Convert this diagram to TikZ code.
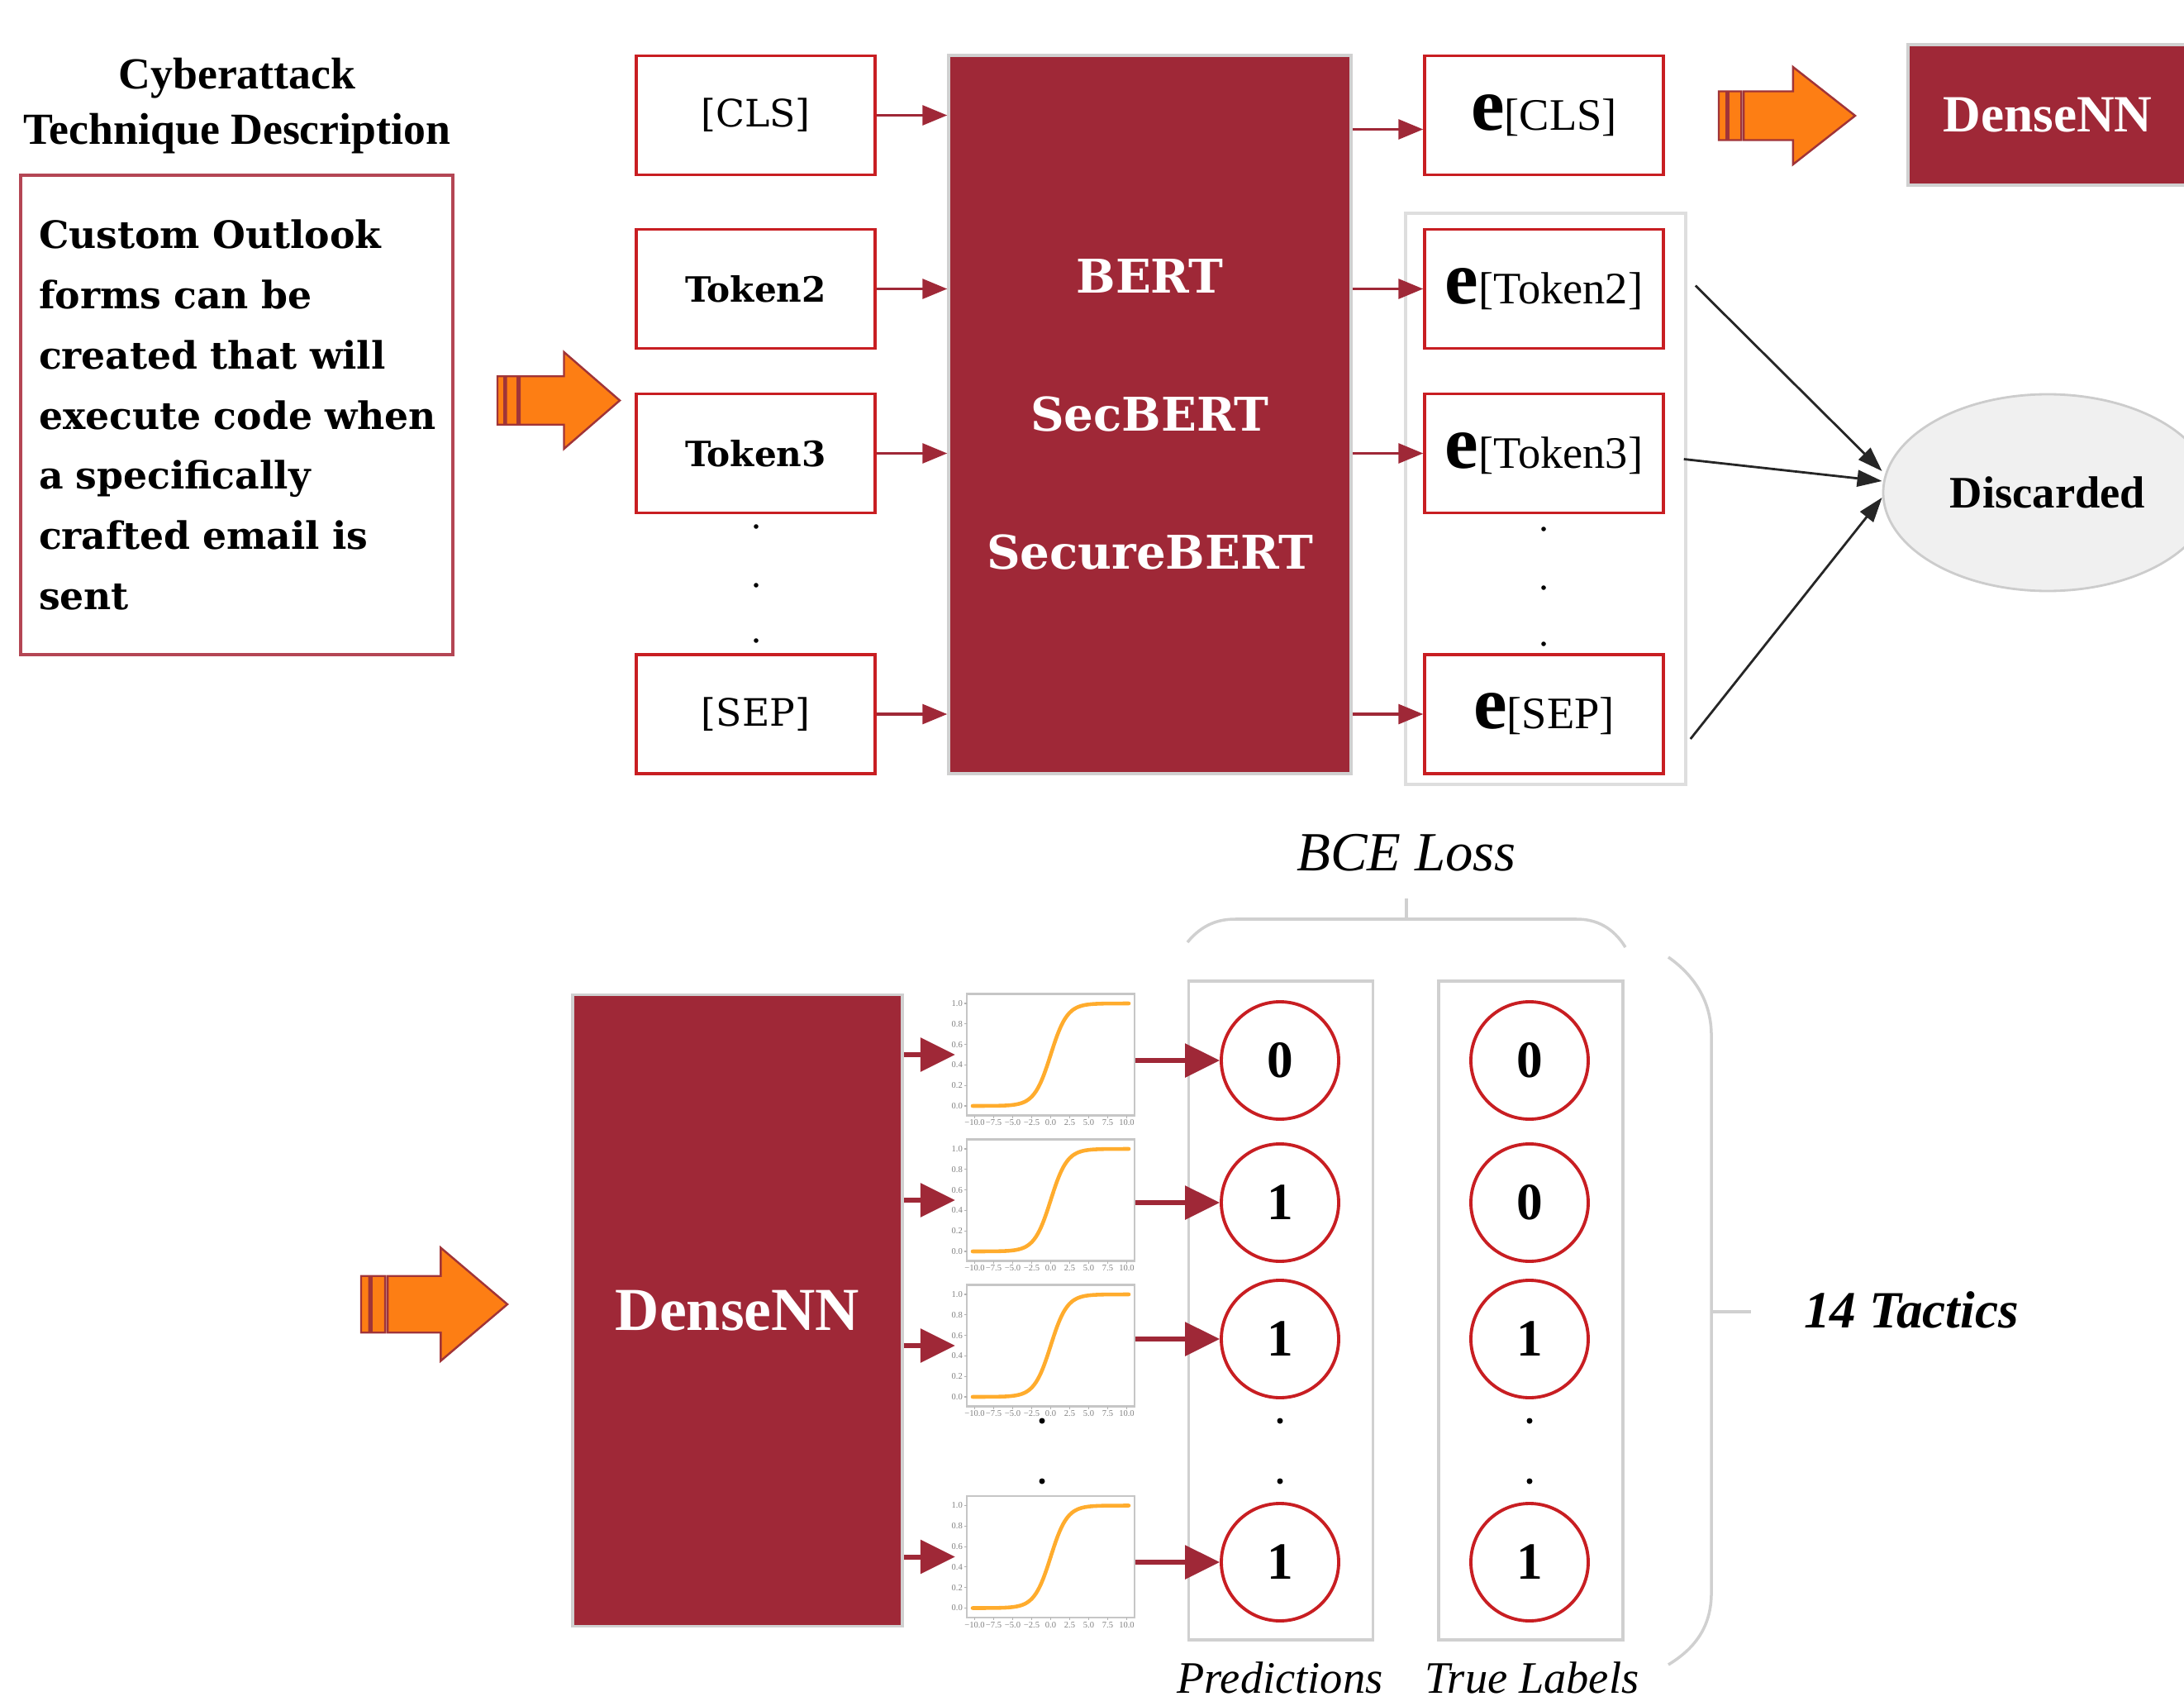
\documentclass[tikz,border=0pt]{standalone}
\usepackage{fontspec}
\setmainfont{Liberation Serif}
\newfontfamily\dejavu{DejaVu Serif}
\usetikzlibrary{arrows.meta,positioning,shapes.geometric}

\definecolor{bertred}{RGB}{159,40,55}
\definecolor{boxred}{RGB}{200,30,34}
\definecolor{descred}{RGB}{180,70,84}
\definecolor{paleline}{RGB}{208,208,208}
\definecolor{arrorange}{RGB}{253,126,20}
\definecolor{arredge}{RGB}{160,52,56}
\definecolor{sigorange}{RGB}{255,172,45}
\definecolor{discfill}{RGB}{240,240,240}

\newcommand{\embtok}[1]{{\fontsize{26}{26}\selectfont\bfseries e}{\fontsize{15.5}{15.5}\selectfont[#1]}}

\tikzset{
	stripearrow/.pic={
		\filldraw[fill=arrorange, draw=arredge, line width=0.7pt]
			(0,-0.25) rectangle (0.056,0.25)
			(0.071,-0.25) rectangle (0.165,0.25)
			(0.182,-0.25) -- (0.544,-0.25) -- (0.544,-0.5) -- (1,0)
			-- (0.544,0.5) -- (0.544,0.25) -- (0.182,0.25) -- cycle;
	}
}

\begin{document}
\begin{tikzpicture}[
		tok/.style={draw=boxred, line width=1pt, minimum width=2.89cm, minimum height=1.44cm, inner sep=0pt},
		special/.style={font=\dejavu\fontsize{13}{13}\selectfont},
		word/.style={font=\dejavu\bfseries\fontsize{12}{12}\selectfont},
		desc/.style={draw=descred, line width=1pt, text width=4.79cm, inner xsep=0.22cm, minimum height=5.80cm, align=left, font=\dejavu\bfseries\fontsize{13}{20.7}\selectfont},
		enc/.style={fill=bertred, draw=paleline, line width=1pt, text=white, inner sep=0pt},
		arr/.style={bertred, line width=0.9pt, -{Triangle[length=0.3cm,width=0.24cm]}},
		bigarr/.style={bertred, line width=1.7pt, -{Triangle[length=0.42cm,width=0.4cm]}},
		blackarr/.style={black!85, line width=0.8pt, -{Triangle[length=0.3cm,width=0.2cm]}},
		col/.style={draw=paleline, line width=1pt, minimum width=2.23cm, minimum height=7.97cm},
		bit/.style={circle, draw=boxred, line width=1.1pt, minimum size=1.42cm, inner sep=0pt, font=\bfseries\fontsize{18}{18}\selectfont},
		sgframe/.style={draw=gray!45, line width=0.6pt, minimum width=2.03cm, minimum height=1.47cm, inner sep=0pt},
		sigcurve/.style={sigorange, line width=1.3pt, line cap=round},
		ticklbl/.style={font=\fontsize{3}{3}\selectfont, text=gray, inner sep=0.4pt},
		brace/.style={paleline, line width=1pt},
		caption/.style={font=\itshape\fontsize{15.5}{15.5}\selectfont}
	]
	\useasboundingbox (0,0) rectangle (26.43,-20.64);
	\clip (0,0) rectangle (26.43,-20.64);

	\node[font=\bfseries\fontsize{15.3}{19.3}\selectfont, align=center] (title) at (2.87,-1.28) {Cyberattack\\Technique Description};
	\node[desc] (desc) at (2.865,-5.02) {Custom Outlook\\forms can be\\created that will\\\mbox{execute code when}\\a specifically\\crafted email is\\sent};
	\pic[xscale=1.48, yscale=1.17] at (6.02,-4.845) {stripearrow};

	\node[tok, special] (cls) at (9.145,-1.395) {[CLS]};
	\node[tok, word] (tk2) at (9.145,-3.495) {Token2};
	\node[tok, word] (tk3) at (9.145,-5.485) {Token3};
	\node[tok, special] (sep) at (9.145,-8.64) {[SEP]};
	\foreach \y in {6.37,7.08,7.75}
		\fill (9.15,-\y) circle (0.028);

	\node[enc, minimum width=4.87cm, minimum height=8.69cm, align=center, font=\dejavu\bfseries\fontsize{16}{47.5}\selectfont] (bert) at (13.915,-5.015) {BERT\\SecBERT\\SecureBERT};
	\foreach \t in {cls,tk2,tk3,sep}
		\draw[arr] (\t) -- (\t -| bert.west);

	\node[draw=paleline!70, line width=1.2pt, minimum width=3.39cm, minimum height=6.91cm] (egroup) at (18.705,-6.035) {};
	\node[tok] (ecls) at (18.685,-1.395) {\embtok{CLS}};
	\node[tok] (et2) at (18.685,-3.495) {\embtok{Token2}};
	\node[tok] (et3) at (18.685,-5.485) {\embtok{Token3}};
	\node[tok] (esep) at (18.685,-8.64) {\embtok{SEP}};
	\foreach \y in {6.40,7.11,7.79}
		\fill (18.68,-\y) circle (0.028);
	\coordinate (eclsin) at ([yshift=-0.17cm]ecls.west);
	\draw[arr] (bert.east |- eclsin) -- (eclsin);
	\foreach \t in {et2,et3,esep}
		\draw[arr] (bert.east |- \t) -- (\t);

	\pic[xscale=1.65, yscale=1.18] at (20.80,-1.40) {stripearrow};
	\node[enc, minimum width=3.38cm, minimum height=1.70cm, font=\bfseries\fontsize{18}{18}\selectfont] (densetop) at (24.78,-1.39) {DenseNN};

	\node[ellipse, draw=gray!40, fill=discfill, line width=0.8pt, minimum width=3.98cm, minimum height=2.38cm, inner sep=0pt, font=\bfseries\fontsize{15.5}{15.5}\selectfont] (disc) at (24.78,-5.96) {Discarded};
	\draw[blackarr] ([shift={(0.37,0.04)}]et2.east) -- ([yshift=0.26cm]disc.west);
	\draw[blackarr] ([shift={(0.23,-0.07)}]et3.east) -- ([yshift=0.14cm]disc.west);
	\draw[blackarr] ([shift={(0.31,-0.30)}]esep.east) -- ([yshift=-0.06cm]disc.west);

	\pic[xscale=1.77, yscale=1.37] at (4.37,-15.78) {stripearrow};
	\node[enc, minimum width=3.99cm, minimum height=7.64cm, font=\bfseries\fontsize{21}{21}\selectfont] (dense) at (8.925,-15.855) {DenseNN};

	\foreach \k/\yc in {1/12.76,2/14.52,3/16.28,4/18.835}{
		\node[sgframe] (sg\k) at (12.715,-\yc) {};
		\begin{scope}[shift={(sg\k.center)}]
			\draw[sigcurve] plot[domain=-9.5:9.5, samples=80, smooth] ({0.0995*\x},{1.24/(1+exp(-\x))-0.62});
			\foreach \t [count=\j] in {0.0,0.2,0.4,0.6,0.8,1.0}{
				\draw[gray!60, line width=0.3pt] (-1.015,{-0.62+0.248*(\j-1)}) -- ++(-0.03,0);
				\node[ticklbl, anchor=east] (sg\k y\j) at (-1.045,{-0.62+0.248*(\j-1)}) {\t};
			}
			\foreach \t [count=\j] in {−10.0,−7.5,−5.0,−2.5,0.0,2.5,5.0,7.5,10.0}{
				\draw[gray!60, line width=0.3pt] ({-0.92+0.23*(\j-1)},-0.735) -- ++(0,-0.03);
				\node[ticklbl, anchor=north] (sg\k x\j) at ({-0.92+0.23*(\j-1)},-0.765) {\t};
			}
		\end{scope}
		\draw[bigarr] (dense.east |- sg\k.west) -- ([xshift=-0.13cm]sg\k.west);
	}
	\foreach \y in {17.19,17.92}
		\fill (12.61,-\y) circle (0.035);

	\node[col] (predcol) at (15.50,-15.855) {};
	\node[col] (truecol) at (18.525,-15.855) {};
	\node[bit] (p1) at (15.49,-12.83) {0};
	\node[bit] (p2) at (15.49,-14.55) {1};
	\node[bit] (p3) at (15.49,-16.20) {1};
	\node[bit] (p4) at (15.49,-18.90) {1};
	\node[bit] (t1) at (18.51,-12.83) {0};
	\node[bit] (t2) at (18.51,-14.55) {0};
	\node[bit] (t3) at (18.51,-16.20) {1};
	\node[bit] (t4) at (18.51,-18.90) {1};
	\foreach \k in {1,...,4}
		\draw[bigarr] (sg\k.east |- p\k) -- (p\k);
	\foreach \x in {15.49,18.51}
		\foreach \y in {17.19,17.92}
			\fill (\x,-\y) circle (0.035);
	\node[caption] (predlbl) at (15.49,-20.30) {Predictions};
	\node[caption] (truelbl) at (18.54,-20.30) {True Labels};

	\coordinate (bcefoot) at (17.02,-11.12);
	\coordinate (bcetip) at (17.02,-10.87);
	\draw[brace] (14.37,-11.40) .. controls (14.55,-11.18) and (14.75,-11.12) .. (14.95,-11.12)
		-- (19.08,-11.12) .. controls (19.32,-11.12) and (19.52,-11.22) .. (19.67,-11.46);
	\draw[brace] (bcefoot) -- (bcetip);
	\node[font=\itshape\fontsize{19}{19}\selectfont] (bce) at (17.02,-10.32) {BCE Loss};

	\coordinate (tacfoot) at (20.71,-15.87);
	\coordinate (tactip) at (21.19,-15.87);
	\draw[brace] (20.19,-11.58) .. controls (20.50,-11.80) and (20.70,-12.10) .. (20.71,-12.50)
		-- (20.71,-19.30) .. controls (20.70,-19.70) and (20.50,-19.95) .. (20.19,-20.14);
	\draw[brace] (tacfoot) -- (tactip);
	\node[font=\bfseries\itshape\fontsize{18}{18}\selectfont] (tactics) at (23.13,-15.85) {14 Tactics};
\end{tikzpicture}
\end{document}
